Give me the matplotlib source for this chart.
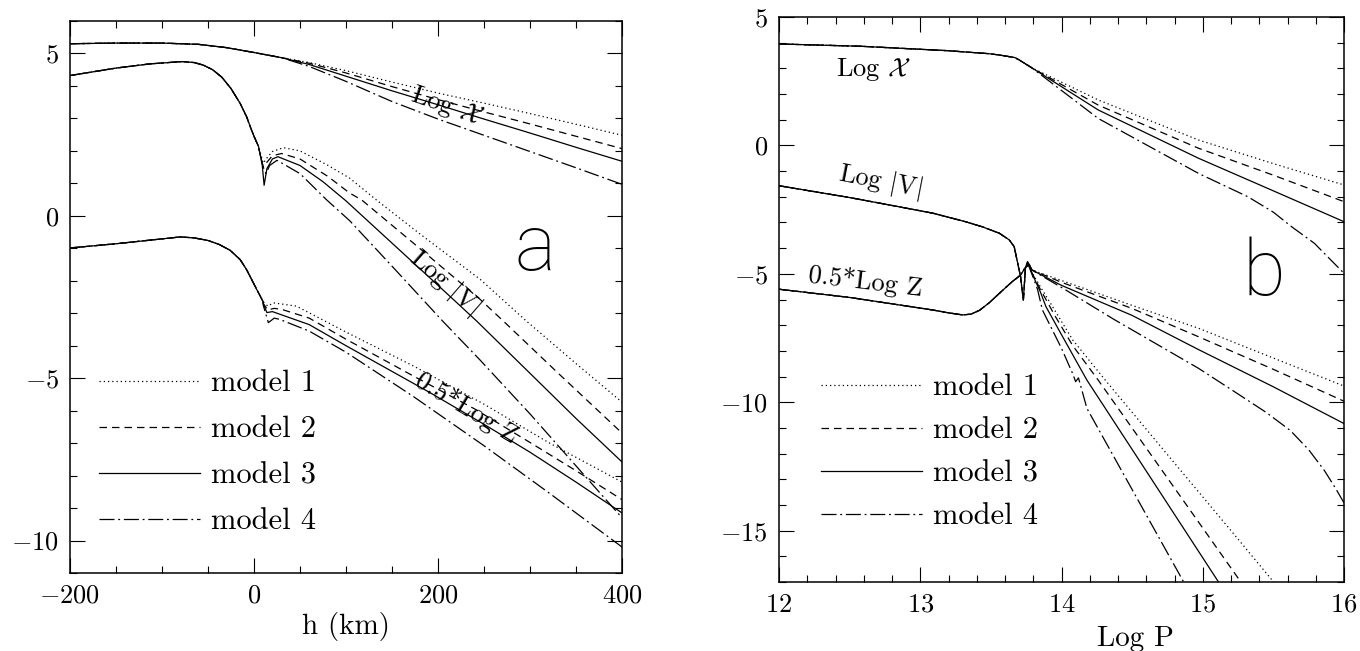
import matplotlib
matplotlib.use('Agg')
import matplotlib.pyplot as plt
from matplotlib.ticker import MultipleLocator, FuncFormatter
from matplotlib.lines import Line2D

plt.rcParams['font.family'] = 'cmr10'
plt.rcParams['mathtext.fontset'] = 'cm'
plt.rcParams['axes.unicode_minus'] = False
plt.rcParams['axes.formatter.use_mathtext'] = True

# ---------------- panel a : quantities vs height h (km) ----------------
# Log X
aX_h_common = [-200, -150, -100, -60, -30, 0, 30]
aX_common = [5.30, 5.32, 5.32, 5.28, 5.18, 5.03, 4.87]
aX_h_split = [30, 60, 100, 150, 200, 250, 300, 350, 400]
aX_m1 = [4.87, 4.72, 4.47, 4.12, 3.78, 3.47, 3.15, 2.82, 2.48]
aX_m2 = [4.87, 4.70, 4.40, 3.98, 3.58, 3.20, 2.83, 2.45, 2.07]
aX_m3 = [4.87, 4.66, 4.30, 3.85, 3.42, 2.98, 2.55, 2.11, 1.68]
aX_m4 = [4.87, 4.60, 4.14, 3.52, 2.98, 2.48, 1.98, 1.48, 0.97]

# Log |V|
aV_h_common = [-200, -150, -113, -78, -65, -55, -45, -35, -25, -15, -8, -4, 0, 5]
aV_common = [4.32, 4.55, 4.68, 4.75, 4.72, 4.64, 4.50, 4.27, 3.92, 3.46, 3.05, 2.74, 2.45, 2.13]
aV_h_m1 = [5, 10, 14, 20, 32, 50, 80, 104, 133, 180, 246, 296, 350, 400]
aV_m1 = [2.13, 1.62, 1.78, 1.98, 2.10, 2.00, 1.56, 1.16, 0.49, -0.55, -1.96, -3.24, -4.55, -5.74]
aV_h_m2 = [5, 10, 14, 20, 30, 50, 80, 104, 117, 180, 246, 271, 330, 400]
aV_m2 = [2.10, 1.50, 1.65, 1.85, 1.92, 1.75, 1.22, 0.70, 0.49, -1.00, -2.58, -3.24, -4.83, -6.69]
aV_h_m3 = [5, 9, 11, 14, 20, 26, 50, 75, 100, 150, 200, 242, 300, 350, 400]
aV_m3 = [2.13, 1.55, 0.94, 1.45, 1.75, 1.82, 1.55, 1.05, 0.46, -0.84, -2.14, -3.24, -4.85, -6.24, -7.58]
aV_h_m4 = [5, 10, 13, 17, 25, 50, 79, 104, 150, 205, 246, 300, 350, 400]
aV_m4 = [2.10, 1.50, 1.30, 1.55, 1.71, 1.30, 0.49, -0.15, -1.55, -3.24, -4.45, -6.10, -7.70, -9.30]

# 0.5*Log Z
aZ_h_common = [-200, -150, -110, -80, -65, -50, -38, -26, -15, -8, 3, 10]
aZ_common = [-0.99, -0.86, -0.74, -0.65, -0.68, -0.76, -0.88, -1.06, -1.35, -1.66, -2.27, -2.65]
aZ_h_m1 = [10, 15, 21, 46, 100, 173, 250, 320, 400]
aZ_m1 = [-2.65, -2.78, -2.68, -2.78, -3.58, -4.62, -5.80, -6.98, -8.20]
aZ_h_m2 = [10, 15, 22, 30, 60, 100, 173, 240, 300, 350, 400]
aZ_m2 = [-2.70, -2.90, -2.85, -2.88, -3.15, -3.80, -4.93, -5.95, -6.98, -7.85, -8.74]
aZ_h_m3 = [10, 14, 20, 28, 60, 100, 191, 250, 300, 350, 400]
aZ_m3 = [-2.70, -2.98, -2.95, -3.03, -3.35, -4.00, -5.44, -6.42, -7.28, -8.20, -9.15]
aZ_h_m4 = [10, 15.6, 22, 28, 60, 100, 173, 250, 320, 400]
aZ_m4 = [-2.75, -3.29, -3.15, -3.19, -3.55, -4.20, -5.56, -7.08, -8.52, -10.20]

# ---------------- panel b : quantities vs Log P ----------------
bX_P_common = [12.0, 12.58, 13.19, 13.49, 13.56, 13.67, 13.70, 13.79]
bX_common = [3.95, 3.86, 3.69, 3.57, 3.52, 3.42, 3.33, 3.02]
bX_P_split = [13.79, 14.26, 14.97, 15.5, 16.0]
bX_m1 = [3.02, 1.77, 0.21, -0.71, -1.54]
bX_m2 = [3.02, 1.57, -0.11, -1.16, -2.19]
bX_m3 = [3.02, 1.38, -0.50, -1.77, -2.97]
bX_P_m4 = [13.79, 14.26, 14.97, 15.32, 15.5, 15.63, 15.79, 16.0]
bX_m4 = [3.02, 1.05, -1.09, -2.0, -2.6, -3.17, -3.81, -4.98]

bV_P_common = [12.0, 12.5, 12.85, 13.09, 13.32, 13.44, 13.56, 13.63, 13.665,
               13.68, 13.695, 13.71, 13.73, 13.745, 13.76, 13.78]
bV_common = [-1.57, -2.03, -2.39, -2.64, -2.97, -3.17, -3.42, -3.68, -3.94,
             -4.33, -4.72, -5.11, -6.02, -4.75, -4.53, -4.85]
bV_P_m1 = [13.78, 13.85, 13.95, 14.08, 14.31, 14.8, 15.2, 15.52]
bV_m1 = [-4.85, -5.5, -6.4, -7.58, -9.14, -12.37, -15.0, -17.12]
bV_P_m2 = [13.78, 13.85, 13.95, 14.08, 14.26, 14.8, 15.28]
bV_m2 = [-4.85, -5.6, -6.6, -7.8, -9.14, -13.34, -17.08]
bV_P_m3 = [13.78, 13.85, 13.89, 14.0, 14.18, 14.6, 15.12]
bV_m3 = [-4.85, -5.7, -6.28, -7.37, -9.14, -12.68, -17.07]
bV_P_m4 = [13.78, 13.83, 13.865, 14.0, 14.08, 14.10, 14.12, 14.18, 14.5, 14.87]
bV_m4 = [-4.85, -5.6, -6.41, -7.9, -8.9, -9.2, -9.05, -10.24, -13.4, -17.05]

bZ_P_common = [12.0, 12.5, 12.85, 13.09, 13.20, 13.30, 13.36, 13.42, 13.49, 13.56,
               13.65, 13.71, 13.74, 13.77, 13.79]
bZ_common = [-5.60, -5.92, -6.21, -6.41, -6.52, -6.60, -6.57, -6.42, -6.12, -5.76,
             -5.31, -5.05, -4.79, -4.62, -4.85]
bZ_P_split = [13.79, 14.0, 14.5, 14.97, 15.5, 16.0]
bZ_m1 = [-4.85, -5.26, -6.23, -7.12, -8.28, -9.37]
bZ_m2 = [-4.85, -5.33, -6.35, -7.45, -8.72, -9.96]
bZ_m3 = [-4.85, -5.45, -6.62, -7.95, -9.40, -10.83]
bZ_P_m4 = [13.79, 14.03, 14.37, 14.97, 15.2, 15.45, 15.62, 15.75, 15.86, 15.94, 16.0]
bZ_m4 = [-4.85, -5.63, -6.77, -8.68, -9.50, -10.40, -11.10, -11.85, -12.65, -13.35, -13.92]

model_labels = ['model 1', 'model 2', 'model 3', 'model 4']
styles = [(0, (1, 2.4)), (0, (6, 4)), 'solid', (0, (12, 3, 1.5, 3))]
LW = 0.9

fig = plt.figure(figsize=(13.6, 6.51), dpi=100)
axa = fig.add_axes([70 / 1360, 78 / 651, 552 / 1360, 552 / 651])
axb = fig.add_axes([779 / 1360, 69 / 651, 565 / 1360, 565 / 651])


def curve(ax, xc, yc, xs, ys, ls):
    ax.plot(list(xc) + list(xs), list(yc) + list(ys), color='k', lw=LW, linestyle=ls)


# panel a
for i, (ym_x, ym_v, hv, ym_z, hz) in enumerate(zip(
        [aX_m1, aX_m2, aX_m3, aX_m4],
        [aV_m1, aV_m2, aV_m3, aV_m4], [aV_h_m1, aV_h_m2, aV_h_m3, aV_h_m4],
        [aZ_m1, aZ_m2, aZ_m3, aZ_m4], [aZ_h_m1, aZ_h_m2, aZ_h_m3, aZ_h_m4])):
    curve(axa, aX_h_common, aX_common, aX_h_split, ym_x, styles[i])
    curve(axa, aV_h_common, aV_common, hv, ym_v, styles[i])
    curve(axa, aZ_h_common, aZ_common, hz, ym_z, styles[i])

# panel b
for i, (px, yx, pv, yv, pz, yz) in enumerate(zip(
        [bX_P_split, bX_P_split, bX_P_split, bX_P_m4], [bX_m1, bX_m2, bX_m3, bX_m4],
        [bV_P_m1, bV_P_m2, bV_P_m3, bV_P_m4], [bV_m1, bV_m2, bV_m3, bV_m4],
        [bZ_P_split, bZ_P_split, bZ_P_split, bZ_P_m4], [bZ_m1, bZ_m2, bZ_m3, bZ_m4])):
    curve(axb, bX_P_common, bX_common, px, yx, styles[i])
    curve(axb, bV_P_common, bV_common, pv, yv, styles[i])
    curve(axb, bZ_P_common, bZ_common, pz, yz, styles[i])

fmt = FuncFormatter(lambda v, pos: '$%g$' % v)
for ax in (axa, axb):
    ax.tick_params(which='both', direction='in', top=True, right=True,
                   width=0.8, labelsize=19, pad=8)
    ax.tick_params(which='major', length=11)
    ax.tick_params(which='minor', length=5)
    for s in ax.spines.values():
        s.set_linewidth(1.1)
    ax.xaxis.set_major_formatter(fmt)
    ax.yaxis.set_major_formatter(fmt)

axa.set_xlim(-200, 400)
axa.set_ylim(-11, 6)
axa.xaxis.set_major_locator(MultipleLocator(200))
axa.xaxis.set_minor_locator(MultipleLocator(50))
axa.yaxis.set_major_locator(MultipleLocator(5))
axa.yaxis.set_minor_locator(MultipleLocator(1))
axa.set_xlabel('h (km)', fontsize=21)
axa.xaxis.set_label_coords(0.5, -0.070)

axb.set_xlim(12, 16)
axb.set_ylim(-17, 5)
axb.xaxis.set_major_locator(MultipleLocator(1))
axb.xaxis.set_minor_locator(MultipleLocator(0.2))
axb.yaxis.set_major_locator(MultipleLocator(5))
axb.yaxis.set_minor_locator(MultipleLocator(1))
axb.set_xlabel('Log P', fontsize=21)
axb.xaxis.set_label_coords(0.63, -0.078)

# curve labels
axa.text(210, 3.37, r'Log $\mathcal{X}$', fontsize=19, rotation=-19,
         ha='center', va='center')
axa.text(208, -2.04, r'Log $|\mathrm{V}|$', fontsize=19, rotation=-41,
         ha='center', va='center')
axa.text(231, -5.9, '0.5*Log Z', fontsize=19, rotation=-31,
         ha='center', va='center')
axb.text(12.40, 2.95, r'Log $\mathcal{X}$', fontsize=19, ha='left', va='center')
axb.text(12.40, -1.4, r'Log $|\mathrm{V}|$', fontsize=19, rotation=-11,
         ha='left', va='center')
axb.text(12.20, -5.3, '0.5*Log Z', fontsize=19, rotation=-7,
         ha='left', va='center')

letter_font = dict(family=['Roboto', 'DejaVu Sans'], fontweight='light',
                   fontsize=56, ha='center', va='center')
axa.text(305, -1.0, 'a', **letter_font)
axb.text(15.43, -5.0, 'b', **letter_font)

handles = [Line2D([], [], color='k', lw=LW, linestyle=s) for s in styles]
leg_kw = dict(frameon=False, fontsize=22, handlelength=3.3, handletextpad=0.36,
              borderpad=0, borderaxespad=0, loc='center left')
axa.legend(handles, model_labels, bbox_to_anchor=(0.053, 0.218),
           labelspacing=0.61, **leg_kw)
axb.legend(handles, model_labels, bbox_to_anchor=(0.075, 0.23),
           labelspacing=0.51, **leg_kw)

fig.savefig('out.png', dpi=100)
